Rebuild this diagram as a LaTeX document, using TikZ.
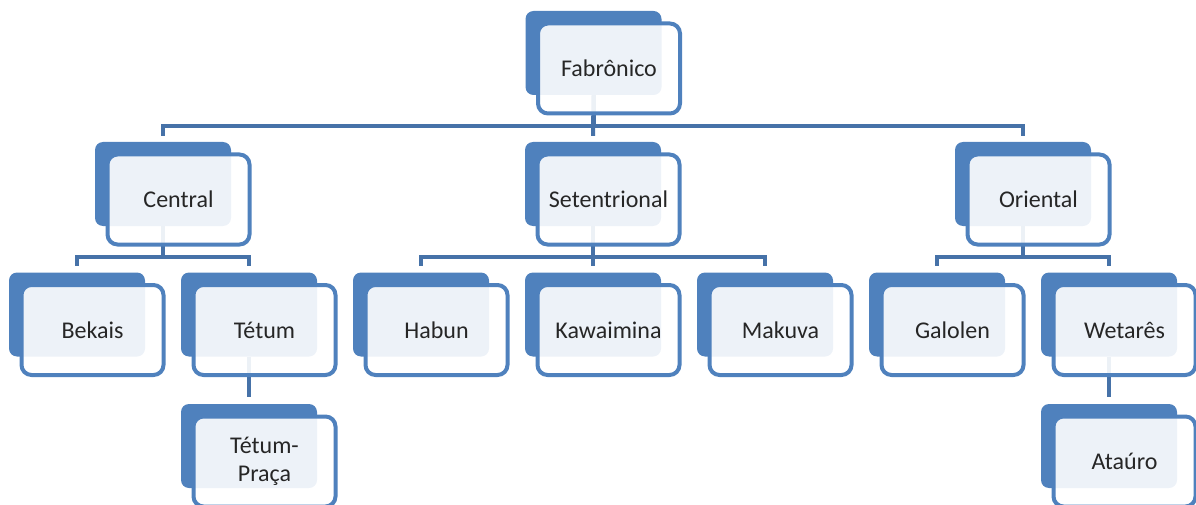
\documentclass[tikz,border=0pt]{standalone}
\usepackage{fontspec}
\setmainfont{Carlito}
\definecolor{accent}{HTML}{4F81BD}
\definecolor{linkblue}{HTML}{4672A8}
\definecolor{labeltext}{HTML}{262626}
\pgfdeclarelayer{links}
\pgfsetlayers{links,main}
\tikzset{
  backcard/.style={rectangle, rounded corners=8pt, fill=accent,
    minimum width=136pt, minimum height=84pt, inner sep=0pt},
  frontcard/.style={rectangle, rounded corners=10pt, draw=accent, line width=4pt,
    fill=white, fill opacity=0.9, text opacity=1, text=labeltext,
    minimum width=142pt, minimum height=90pt, inner sep=0pt,
    font=\fontsize{24}{28}\selectfont, align=center},
  link/.style={draw=linkblue, line width=4pt},
}
% a card: blue back plate with a translucent framed card on top
\newcommand\card[3]{%
  \node[backcard] (#1B) at (#2) {};
  \node[frontcard, xshift=15.5pt, yshift=-15.5pt] (#1) at (#1B) {#3};
}
\begin{document}
\begin{tikzpicture}[x=1pt, y=-1pt]
  \useasboundingbox (0,0) rectangle (1196,505);

  % root
  \card{fab}{593.5,53}{Fabrônico}
  % first level
  \card{central}{163,184}{Central}
  \card{setent}{593,184}{Setentrional}
  \card{oriental}{1023,184}{Oriental}
  % second level
  \card{bekais}{77,314.5}{Bekais}
  \card{tetum}{249,314.5}{Tétum}
  \card{habun}{421,314.5}{Habun}
  \card{kawai}{593,314.5}{Kawaimina}
  \card{makuva}{765,314.5}{Makuva}
  \card{galolen}{937,314.5}{Galolen}
  \card{wetares}{1109,314.5}{Wetarês}
  % third level
  \card{praca}{249,446}{Tétum-\\Praça}
  \card{atauro}{1109,446}{Ataúro}

  \begin{pgfonlayer}{links}
    \draw[link] (fabB.south) -- ++(0,30.5) -| ([yshift=6pt]centralB.north);
    \draw[link] (fabB.south) -- ([yshift=6pt]setentB.north);
    \draw[link] (fabB.south) -- ++(0,30.5) -| ([yshift=6pt]orientalB.north);

    \draw[link] (centralB.south) -- ++(0,30.5) -| ([yshift=6pt]bekaisB.north);
    \draw[link] (centralB.south) -- ++(0,30.5) -| ([yshift=6pt]tetumB.north);

    \draw[link] (setentB.south) -- ++(0,30.5) -| ([yshift=6pt]habunB.north);
    \draw[link] (setentB.south) -- ([yshift=6pt]kawaiB.north);
    \draw[link] (setentB.south) -- ++(0,30.5) -| ([yshift=6pt]makuvaB.north);

    \draw[link] (orientalB.south) -- ++(0,30.5) -| ([yshift=6pt]galolenB.north);
    \draw[link] (orientalB.south) -- ++(0,30.5) -| ([yshift=6pt]wetaresB.north);

    \draw[link] (tetumB.south) -- ([yshift=7pt]pracaB.north);
    \draw[link] (wetaresB.south) -- ([yshift=7pt]atauroB.north);
  \end{pgfonlayer}
\end{tikzpicture}
\end{document}
